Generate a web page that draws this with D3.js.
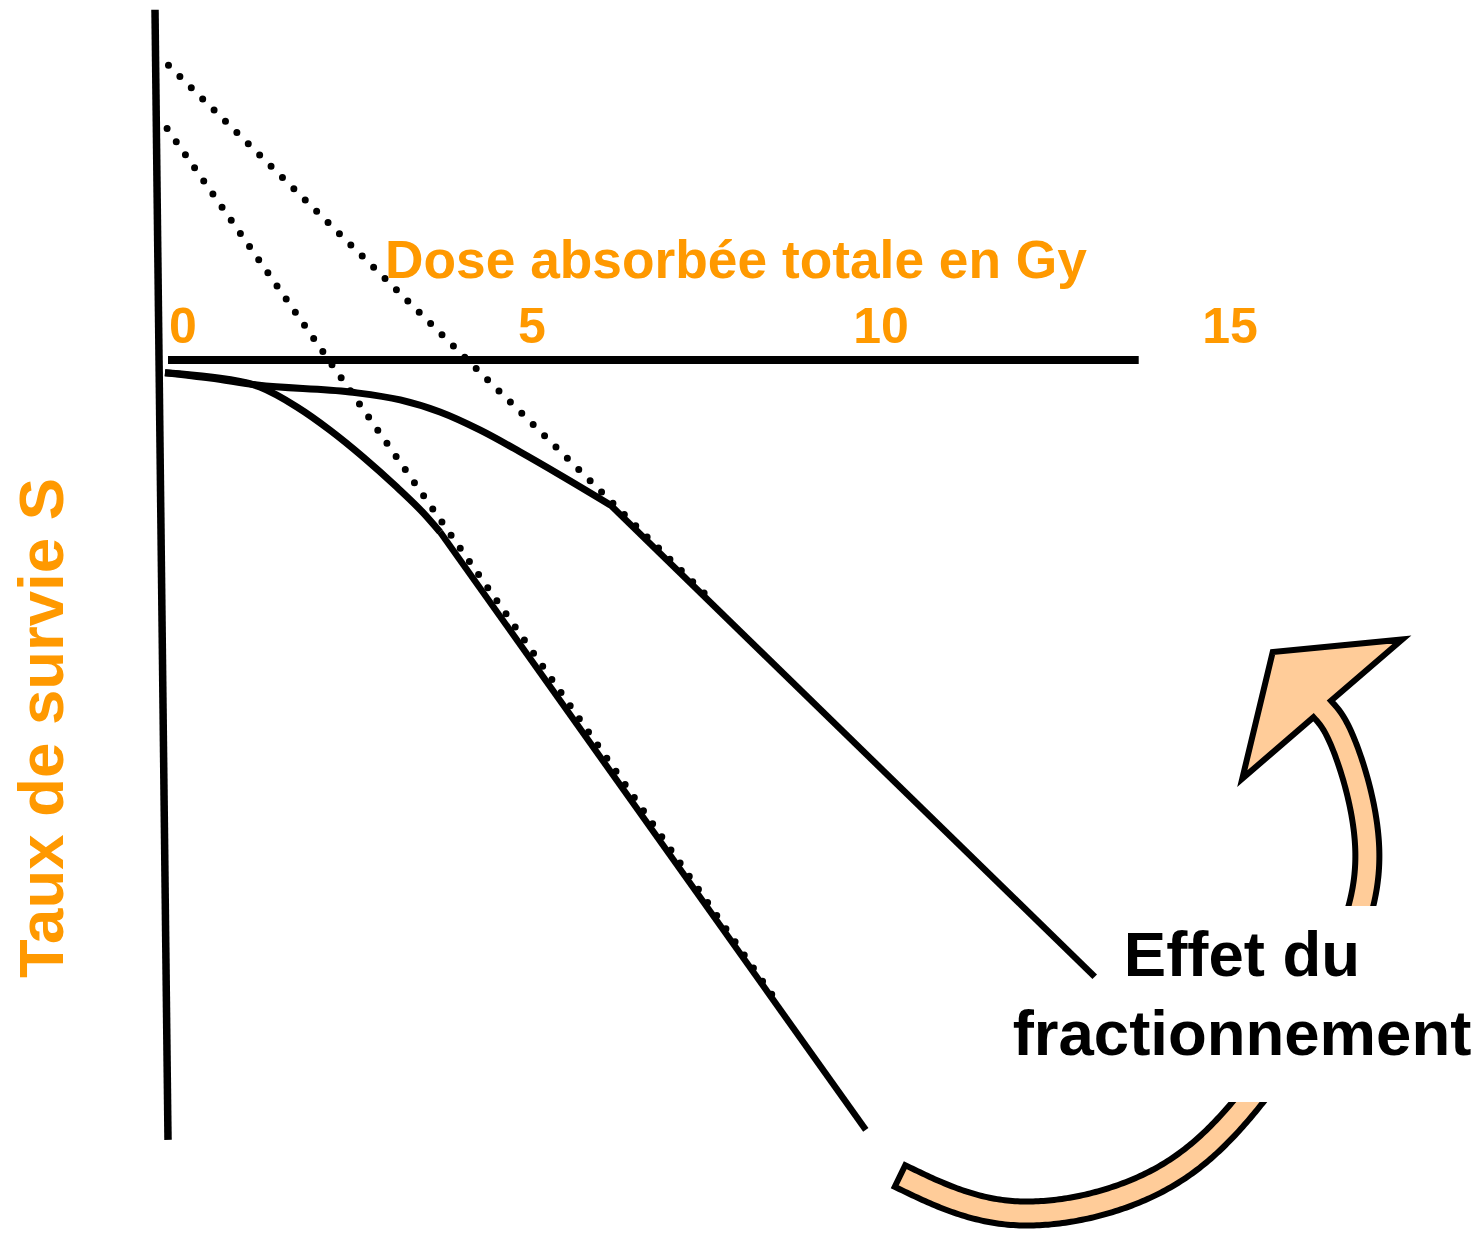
<!DOCTYPE html>
<html>
<head>
<meta charset="utf-8">
<script src="https://cdn.jsdelivr.net/npm/d3@7"></script>
<style>
  body { margin: 0; background: #fff; }
  svg { display: block; }
  text { font-family: "Liberation Sans", Arial, sans-serif; font-weight: bold; }
</style>
</head>
<body>
<svg id="chart"></svg>
<script>
// Courbes de survie : dose unique vs dose fractionnee (echelle log)

const WIDTH = 1483;
const HEIGHT = 1240;
const ORANGE = "#FF9900";
const ARROW_FILL = "#FFCC99";

// dose ticks (Gy)
const doseTicks = [0, 5, 10, 15];

// single dose curve
const singleDose = [0, 0.65, 1.36, 1.89, 2.36, 2.84, 3.32, 3.7, 3.94, 10.04];
const singleSurv = [0.99, 0.926, 0.794, 0.585, 0.411, 0.271, 0.171, 0.115, 0.0858, 8.85e-6];

// fractionated curve
const fracDose = [0, 0.65, 1.32, 2.65, 3.37, 3.94, 4.51, 5.09, 5.66, 6.38, 13.32];
const fracSurv = [0.99, 0.912, 0.819, 0.736, 0.651, 0.541, 0.411, 0.293, 0.206, 0.130, 9.3e-5];

// extrapolated straight parts (dotted)
const singleFitDose = [0.03, 8.75];
const singleFitSurv = [42, 6.5e-5];
const fracFitDose = [0.05, 7.8];
const fracFitSurv = [111, 0.031];

// curved arrow "effet du fractionnement" (centre line, then tip)
const arrowDose = [10.53, 12.15, 14.07, 15.54, 16.84, 17.22, 16.89, 16.58];
const arrowLog10S = [-5.36, -5.607, -5.427, -4.853, -3.92, -3.14, -2.487, -2.247];
const arrowTipDose = 15.87;
const arrowTipLog10S = -1.867;

const svg = d3.select("#chart")
    .attr("width", WIDTH)
    .attr("height", HEIGHT);

svg.append("rect")
    .attr("width", WIDTH)
    .attr("height", HEIGHT)
    .attr("fill", "#fff");

const x = d3.scaleLinear().domain([0, 15]).range([165, 1212]);
const y = d3.scaleLog().domain([1, 1e-5]).range([372, 1122]);

const line = d3.line().x(d => x(d[0])).y(d => y(d[1]));

// shoulder drawn smooth, final exponential part straight
function curvePaths(doses, survs) {
    const pts = doses.map((d, i) => [d, survs[i]]);
    const kink = pts.length - 2;
    svg.append("path")
        .attr("d", line.curve(d3.curveMonotoneX)(pts.slice(0, kink + 1)))
        .attr("fill", "none")
        .attr("stroke", "#000")
        .attr("stroke-width", 7);
    svg.append("path")
        .attr("d", line.curve(d3.curveLinear)(pts.slice(kink)))
        .attr("fill", "none")
        .attr("stroke", "#000")
        .attr("stroke-width", 6.5);
}

function dotted(doses, survs) {
    svg.append("path")
        .attr("d", line.curve(d3.curveLinear)(doses.map((d, i) => [d, survs[i]])))
        .attr("fill", "none")
        .attr("stroke", "#000")
        .attr("stroke-width", 7)
        .attr("stroke-linecap", "round")
        .attr("stroke-dasharray", "0 16");
}

dotted(fracFitDose, fracFitSurv);
dotted(singleFitDose, singleFitSurv);
curvePaths(singleDose, singleSurv);
curvePaths(fracDose, fracSurv);

// axes
svg.append("line")
    .attr("x1", x(0) - 10).attr("y1", y(260))
    .attr("x2", x(0) + 3).attr("y2", y(7.6e-6))
    .attr("stroke", "#000")
    .attr("stroke-width", 7.5);

svg.append("line")
    .attr("x1", x(0) + 3).attr("y1", y(1) - 12)
    .attr("x2", x(13.95)).attr("y2", y(1) - 12)
    .attr("stroke", "#000")
    .attr("stroke-width", 8);

svg.selectAll(".tick-label")
    .data(doseTicks)
    .join("text")
    .attr("class", "tick-label")
    .attr("x", d => x(d) + 18)
    .attr("y", 343)
    .attr("text-anchor", "middle")
    .attr("font-size", 50)
    .attr("fill", ORANGE)
    .text(d => d);

svg.append("text")
    .attr("x", 385)
    .attr("y", 278)
    .attr("font-size", 53.3)
    .attr("fill", ORANGE)
    .text("Dose absorbée totale en Gy");

svg.append("text")
    .attr("transform", "translate(63,728) rotate(-90)")
    .attr("text-anchor", "middle")
    .attr("font-size", 63.5)
    .attr("fill", ORANGE)
    .text("Taux de survie S");

// --- curved arrow ---
const centre = d3.line().curve(d3.curveNatural)
    (arrowDose.map((d, i) => [x(d), y(Math.pow(10, arrowLog10S[i]))]));
const tmp = svg.append("path").attr("d", centre).attr("fill", "none");
const node = tmp.node();
const total = node.getTotalLength();
const N = 300;
const halfW = 12;
const sideA = [], sideB = [];
for (let i = 0; i <= N; i++) {
    const l = total * i / N;
    const p = node.getPointAtLength(l);
    const p0 = node.getPointAtLength(Math.max(0, l - 2));
    const p1 = node.getPointAtLength(Math.min(total, l + 2));
    let tx = p1.x - p0.x, ty = p1.y - p0.y;
    const len = Math.hypot(tx, ty) || 1;
    tx /= len; ty /= len;
    sideA.push([p.x - ty * halfW, p.y + tx * halfW]);
    sideB.push([p.x + ty * halfW, p.y - tx * halfW]);
}
tmp.remove();

const base = [x(arrowDose[arrowDose.length - 1]), y(Math.pow(10, arrowLog10S[arrowLog10S.length - 1]))];
const tip = [x(arrowTipDose), y(Math.pow(10, arrowTipLog10S))];
let ux = tip[0] - base[0], uy = tip[1] - base[1];
const ul = Math.hypot(ux, uy);
ux /= ul; uy /= ul;
const wingW = 106;
const wingA = [base[0] - uy * wingW, base[1] + ux * wingW];
const wingB = [base[0] + uy * wingW, base[1] - ux * wingW];

const outline = sideA.concat([wingA, tip, wingB], sideB.slice().reverse());

svg.append("path")
    .attr("d", "M" + outline.map(p => p.join(",")).join("L") + "Z")
    .attr("fill", ARROW_FILL)
    .attr("stroke", "#000")
    .attr("stroke-width", 6)
    .attr("stroke-linejoin", "miter");

// white label box over the arrow
svg.append("rect")
    .attr("x", 1100)
    .attr("y", 906)
    .attr("width", WIDTH - 1100)
    .attr("height", 196)
    .attr("fill", "#fff");

svg.append("text")
    .attr("x", 1242)
    .attr("y", 976)
    .attr("text-anchor", "middle")
    .attr("font-size", 63.5)
    .attr("fill", "#000")
    .text("Effet du");

svg.append("text")
    .attr("x", 1242)
    .attr("y", 1055)
    .attr("text-anchor", "middle")
    .attr("font-size", 63.5)
    .attr("fill", "#000")
    .text("fractionnement");
</script>
</body>
</html>
